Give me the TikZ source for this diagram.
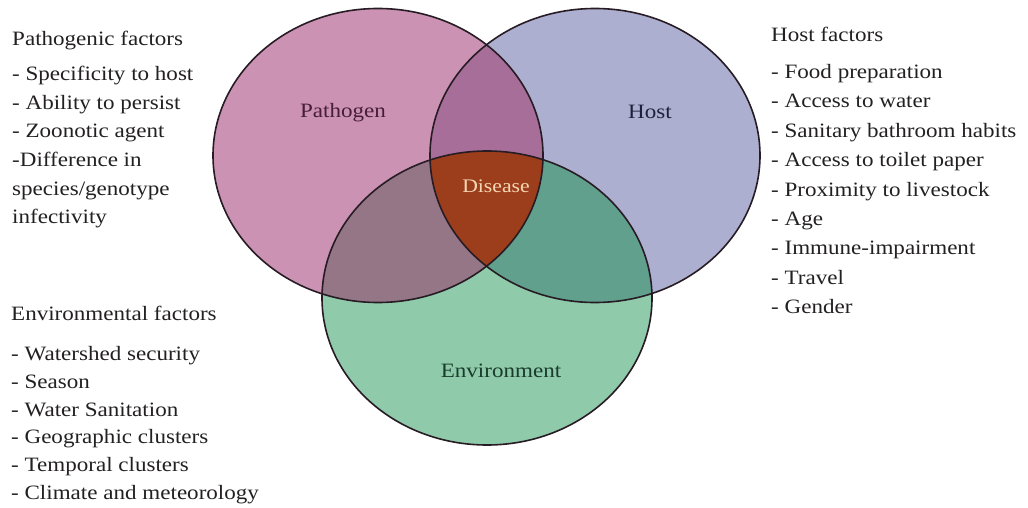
\documentclass[tikz,border=0pt]{standalone}
\usepackage{fontspec}
\setmainfont[FakeStretch=1.13]{Liberation Serif}
\definecolor{PathogenClr}{rgb}{0.796,0.573,0.706}
\definecolor{HostClr}{rgb}{0.678,0.686,0.816}
\definecolor{EnvClr}{rgb}{0.561,0.792,0.667}
\definecolor{PHClr}{rgb}{0.651,0.431,0.6}
\definecolor{PEClr}{rgb}{0.580,0.463,0.529}
\definecolor{HEClr}{rgb}{0.380,0.627,0.553}
\definecolor{DiseaseClr}{rgb}{0.612,0.243,0.110}
\definecolor{LineClr}{rgb}{0.157,0.110,0.141}
\definecolor{PathogenTxt}{rgb}{0.275,0.118,0.216}
\definecolor{HostTxt}{rgb}{0.118,0.125,0.235}
\definecolor{EnvTxt}{rgb}{0.098,0.235,0.176}
\definecolor{DiseaseTxt}{rgb}{0.961,0.843,0.706}
\definecolor{FactorTxt}{rgb}{0.137,0.125,0.129}

\tikzset{
  ring/.style={x radius=165,y radius=147},
  outline/.style={draw=LineClr,line width=1.6pt},
  setname/.style={font=\fontsize{20.4}{24}\selectfont,inner sep=0pt,anchor=base},
  head/.style={font=\fontsize{20.4}{24}\selectfont,color=FactorTxt,inner sep=0pt,anchor=base west},
  factors/.style={font=\fontsize{20.4}{#1}\selectfont,color=FactorTxt,align=left,inner sep=0pt,anchor=north west},
  factors/.default=28.8
}

\begin{document}
\begin{tikzpicture}[x=1pt,y=-1pt]
\useasboundingbox (0,0) rectangle (1028,508);

\coordinate (P) at (378,155.5);
\coordinate (H) at (595,155.5);
\coordinate (E) at (487,298);

\fill[PathogenClr] (P) ellipse [ring];
\fill[HostClr] (H) ellipse [ring];
\fill[EnvClr] (E) ellipse [ring];

\begin{scope}
  \clip (H) ellipse [ring];
  \fill[HEClr] (E) ellipse [ring];
\end{scope}
\begin{scope}
  \clip (P) ellipse [ring];
  \fill[PHClr] (H) ellipse [ring];
  \fill[PEClr] (E) ellipse [ring];
  \clip (H) ellipse [ring];
  \fill[DiseaseClr] (E) ellipse [ring];
\end{scope}

\path[outline] (P) ellipse [ring] (H) ellipse [ring] (E) ellipse [ring];

\node[setname,PathogenTxt] (pathogen) at (343,118) {Pathogen};
\node[setname,HostTxt] (host) at (650,119) {Host};
\node[setname,EnvTxt] (environment) at (501,377) {Environment};
\node[setname,DiseaseTxt,font=\fontsize{19.2}{22}\selectfont] (disease) at (496,192) {Disease};

\node[head] (pathHead) at (12,46) {Pathogenic factors};
\node[factors=28.6] (pathList) at (12,66.1) {- Specificity to host\\- Ability to persist\\- Zoonotic agent\\-Difference in\\species/genotype\\infectivity};

\node[head] (hostHead) at (771,42) {Host factors};
\node[factors=29.4] (hostList) at (771,64.1) {- Food preparation\\- Access to water\\- Sanitary bathroom habits\\- Access to toilet paper\\- Proximity to livestock\\- Age\\- Immune-impairment\\- Travel\\- Gender};

\node[head] (envHead) at (11,320) {Environmental factors};
\node[factors=27.8] (envList) at (11,346.1) {- Watershed security\\- Season\\- Water Sanitation\\- Geographic clusters\\- Temporal clusters\\- Climate and meteorology};

\end{tikzpicture}
\end{document}
